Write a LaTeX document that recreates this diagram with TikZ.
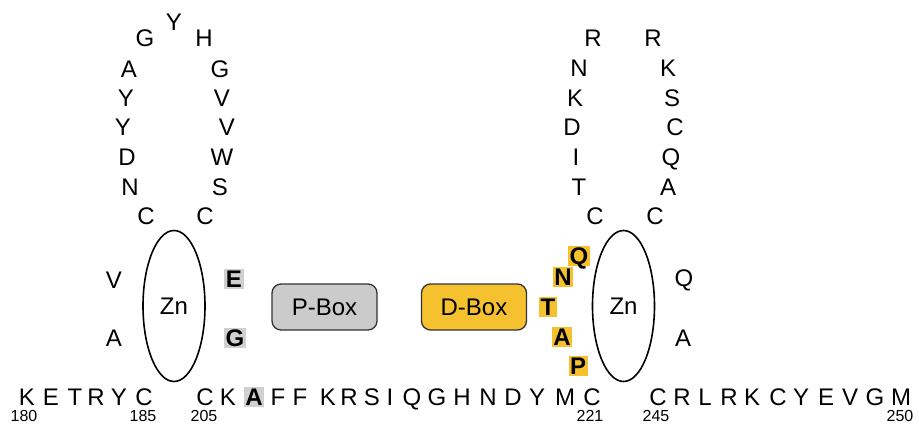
\documentclass[tikz,border=0pt]{standalone}
\usepackage{fontspec}
\setmainfont{Liberation Sans}
\usetikzlibrary{shapes.geometric}
\definecolor{boxyellow}{HTML}{F5C12E}
\definecolor{boxgrey}{HTML}{CBCBCB}
\definecolor{hlgrey}{HTML}{D0D0D0}
\definecolor{edgegrey}{HTML}{333333}
\begin{document}
\begin{tikzpicture}[x=1pt,y=-1pt,
  aa/.style={font=\fontsize{24}{28}\selectfont, text height=17pt, text depth=0pt, inner sep=0pt},
  hly/.style={aa, font=\fontsize{24}{28}\selectfont\bfseries, fill=boxyellow, inner sep=1.5pt},
  hlg/.style={aa, font=\fontsize{24}{28}\selectfont\bfseries, fill=hlgrey, inner sep=1.5pt},
  num/.style={font=\fontsize{16}{18}\selectfont, text height=11.5pt, text depth=0pt, inner sep=0pt},
  zinc/.style={ellipse, draw, line width=1.6pt, minimum width=62pt, minimum height=151pt,
    inner sep=0pt, font=\fontsize{24}{28}\selectfont},
  motif/.style={draw=edgegrey, line width=1.3pt, rounded corners=9pt, minimum width=105pt,
    minimum height=46pt, inner sep=0pt, font=\fontsize{24}{28}\selectfont}]
\useasboundingbox (0,0) rectangle (919,425);

% first zinc finger loop
\foreach \x/\y/\t [count=\i] in {174/22/Y,145/38/G,204/38/H,129/69/A,220/69/G,
    126/98/Y,222/98/V,123/127/Y,227/127/V,127/157/D,222/157/W,130/187/N,
    220/187/S,146/216/C,205/216/C,114/280/V,114/338/A}
  \node[aa] (fa\i) at (\x,\y) {\t};
\node[hlg] (fe) at (234,279) {E};
\node[hlg] (fg) at (235,338) {G};
\node[zinc] (zn1) at (174,306) {Zn};

% second zinc finger loop
\foreach \x/\y/\t [count=\i] in {593/38/R,653/38/R,579/68/N,668/68/K,575/98/K,
    672/98/S,572/127/D,675/127/C,576/157/I,671/157/Q,579/187/T,668/187/A,
    595/216/C,655/216/C,684/278/Q,683/338/A}
  \node[aa] (sb\i) at (\x,\y) {\t};
\foreach \x/\y/\t [count=\i] in {579/256/Q,563/277/N,548/307/T,562/337/A,578/366/P}
  \node[hly] (dy\i) at (\x,\y) {\t};
\node[zinc] (zn2) at (623.5,306) {Zn};

% P-box and D-box
\node[motif, fill=boxgrey] (pbox) at (324.5,307) {P-Box};
\node[motif, fill=boxyellow] (dbox) at (474,307) {D-Box};

% linear sequence along the bottom
\foreach \x/\t [count=\i] in {27/K,51/E,75/T,96/R,119/Y,144/C,205/C,228/K,
    278/F,300/F,328/K,349/R,372/S,390/I,412/Q,437/G,462/H,488/N,513/D,537/Y,
    565/M,592/C,658/C,682/R,705/L,729/R,752/K,778/C,801/Y,826/E,850/V,875/G,901/M}
  \node[aa] (sq\i) at (\x,397) {\t};
\node[hlg] (sqa) at (254,397) {A};

% residue numbers
\foreach \x/\t in {24/180,143/185,204/205,590/221,656/245,900/250}
  \node[num] (n\t) at (\x,416) {\t};
\end{tikzpicture}
\end{document}
